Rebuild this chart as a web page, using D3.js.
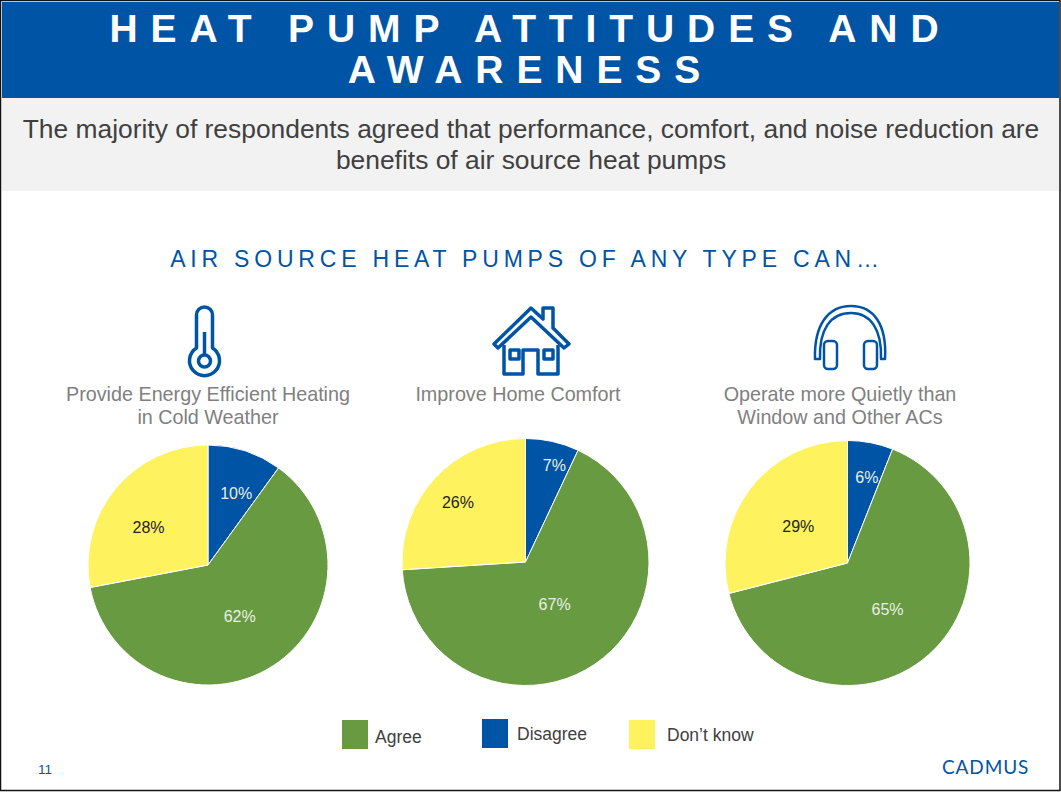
<!DOCTYPE html>
<html>
<head>
<meta charset="utf-8">
<script src="https://cdn.jsdelivr.net/npm/d3@7"></script>
<style>
  html, body { margin: 0; padding: 0; background: #fff; }
  svg { display: block; font-family: "Liberation Sans", Arial, sans-serif; }
</style>
</head>
<body>
<svg id="chart" width="1061" height="792"></svg>
<script>
// Chart data
const categories = ['Disagree', 'Agree', "Don\u2019t know"];
const heatingValues = [10, 62, 28];
const comfortValues = [7, 67, 26];
const quietValues = [6, 65, 29];
const legendOrder = ['Agree', 'Disagree', "Don\u2019t know"];
const headingLines = ['HEAT PUMP ATTITUDES AND', 'AWARENESS'];
const subheadLines = [
  'The majority of respondents agreed that performance, comfort, and noise reduction are',
  'benefits of air source heat pumps'
];

const BLUE = '#0054a6';
const color = d3.scaleOrdinal()
  .domain(categories)
  .range([BLUE, '#679a41', '#fff25f']);

const svg = d3.select('#chart');

// Frame + banners
svg.append('rect').attr('width', 1061).attr('height', 792).attr('fill', '#fff');
svg.append('rect').attr('x', 2).attr('y', 2).attr('width', 1057).attr('height', 96).attr('fill', BLUE);
svg.append('rect').attr('x', 2).attr('y', 98).attr('width', 1057).attr('height', 93).attr('fill', '#f2f2f2');
svg.append('rect').attr('x', 0.5).attr('y', 0.5).attr('width', 1059.5).attr('height', 790)
  .attr('fill', 'none').attr('stroke', '#111').attr('stroke-width', 1.5);

svg.selectAll('text.heading')
  .data(headingLines)
  .join('text')
  .attr('class', 'heading')
  .attr('x', 530.5)
  .attr('y', (d, i) => 42 + i * 41)
  .attr('text-anchor', 'middle')
  .attr('fill', '#fff')
  .attr('font-size', 39)
  .attr('font-weight', 'bold')
  .attr('letter-spacing', 12.9)
  .text(d => d);

svg.selectAll('text.subhead')
  .data(subheadLines)
  .join('text')
  .attr('class', 'subhead')
  .attr('x', 531)
  .attr('y', (d, i) => 138 + i * 31)
  .attr('text-anchor', 'middle')
  .attr('fill', '#404040')
  .attr('font-size', 26.4)
  .text(d => d);

svg.append('text')
  .attr('x', 527)
  .attr('y', 267)
  .attr('text-anchor', 'middle')
  .attr('fill', BLUE)
  .attr('font-size', 23)
  .attr('letter-spacing', 4.8)
  .text('AIR SOURCE HEAT PUMPS OF ANY TYPE CAN\u2026');

// One entry per pie; labelRadius + labelNudge place each slice label, slice order
const pies = [
  { values: heatingValues, cx: 208, cy: 565, r: 120, labelRadius: [75, 61, 72],
    labelNudge: [[5, 0], [-1, 0], [-4, 8]], textX: 208,
    title: ['Provide Energy Efficient Heating', 'in Cold Weather'] },
  { values: comfortValues, cx: 525.5, cy: 562, r: 123.5, labelRadius: [100, 50, 90],
    labelNudge: [[7, 1], [1, 1], [-2, 2]], textX: 518,
    title: ['Improve Home Comfort'] },
  { values: quietValues, cx: 847.5, cy: 563, r: 122.5, labelRadius: [87, 62, 61],
    labelNudge: [[3, 0], [-1, 0], [-1, 1]], textX: 840,
    title: ['Operate more Quietly than', 'Window and Other ACs'] }
];

const pie = d3.pie().sort(null);

pies.forEach(p => {
  const g = svg.append('g').attr('transform', `translate(${p.cx},${p.cy})`);
  const arc = d3.arc().innerRadius(0).outerRadius(p.r);
  const arcs = pie(p.values);

  g.selectAll('path')
    .data(arcs)
    .join('path')
    .attr('d', arc)
    .attr('fill', (d, i) => color(categories[i]))
    .attr('stroke', '#fff')
    .attr('stroke-width', 1);

  g.selectAll('text')
    .data(arcs)
    .join('text')
    .attr('transform', (d, i) => {
      const [x, y] = d3.arc().innerRadius(p.labelRadius[i]).outerRadius(p.labelRadius[i]).centroid(d);
      return `translate(${x + p.labelNudge[i][0]},${y + p.labelNudge[i][1]})`;
    })
    .attr('text-anchor', 'middle')
    .attr('dy', '0.35em')
    .attr('font-size', 16)
    .attr('fill', (d, i) => i === 2 ? '#222' : '#e8f0e4')
    .text(d => d.value + '%');

  svg.selectAll(null)
    .data(p.title)
    .join('text')
    .attr('x', p.textX)
    .attr('y', (d, i) => 401 + i * 23)
    .attr('text-anchor', 'middle')
    .attr('fill', '#808080')
    .attr('font-size', 19.75)
    .text(d => d);
});

// Icons
const icons = svg.append('g').attr('fill', 'none').attr('stroke', BLUE).attr('stroke-linejoin', 'round');

const thermo = icons.append('g').attr('transform', 'translate(204.5,0)').attr('stroke-width', 3.5);
thermo.append('path').attr('d', 'M-8,348 V315 A8,8 0 0 1 8,315 V348 A15,15 0 1 1 -8,348 Z');
thermo.append('circle').attr('cy', 361).attr('r', 6);
thermo.append('path').attr('d', 'M0,332 V355');

const house = icons.append('g').attr('transform', 'translate(480,295)').attr('stroke-width', 3.5);
house.append('path').attr('d', 'M14,49 L51,13 L63,24 V13 L73,13 V33 L89,49 L84,53 L51,22 L18,53 Z');
house.append('path').attr('d', 'M24,50 V79 H43 V55 H58 V79 H78 V50');
house.append('rect').attr('x', 30).attr('y', 55).attr('width', 9).attr('height', 9);
house.append('rect').attr('x', 64).attr('y', 55).attr('width', 9).attr('height', 9);

const phones = icons.append('g').attr('transform', 'translate(800,295)').attr('stroke-width', 2.5);
phones.append('path').attr('d', 'M15,64 C14,30 28,11 51,11 C74,11 87,30 85,64 H81 C82,35 71,18 51,18 C30,18 19,35 20,64 Z');
phones.append('rect').attr('x', 24).attr('y', 46).attr('width', 13).attr('height', 28).attr('rx', 4);
phones.append('rect').attr('x', 64).attr('y', 46).attr('width', 13).attr('height', 28).attr('rx', 4);

// Legend
const legendX = d3.scaleOrdinal().domain(legendOrder).range([342, 482, 629]);
const legendY = d3.scaleOrdinal().domain(legendOrder).range([720, 719, 720]);
const legendTextX = d3.scaleOrdinal().domain(legendOrder).range([375, 517, 667]);
const legendTextY = d3.scaleOrdinal().domain(legendOrder).range([743, 740, 741]);

svg.selectAll('rect.swatch')
  .data(legendOrder)
  .join('rect')
  .attr('class', 'swatch')
  .attr('x', d => legendX(d))
  .attr('y', d => legendY(d))
  .attr('width', 26)
  .attr('height', 29)
  .attr('fill', d => color(d));

svg.selectAll('text.legend')
  .data(legendOrder)
  .join('text')
  .attr('class', 'legend')
  .attr('x', d => legendTextX(d))
  .attr('y', d => legendTextY(d))
  .attr('fill', '#404040')
  .attr('font-size', 17.5)
  .text(d => d);

// Footer
svg.append('text').attr('x', 38).attr('y', 774).attr('fill', BLUE).attr('font-size', 13.5).text('11');
svg.append('text')
  .attr('x', 942).attr('y', 774)
  .attr('fill', BLUE)
  .attr('font-family', 'Lato, sans-serif')
  .attr('font-size', 19)
  .attr('letter-spacing', 0.9)
  .text('CADMUS');
</script>
</body>
</html>
